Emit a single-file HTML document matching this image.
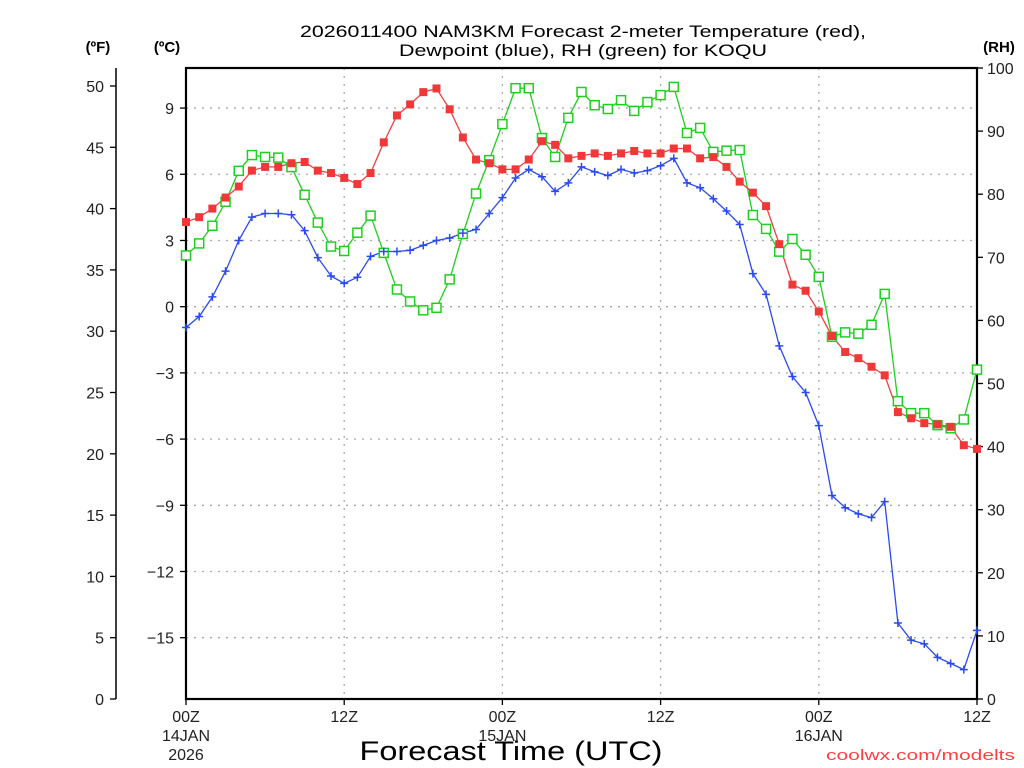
<!DOCTYPE html>
<html><head><meta charset="utf-8"><style>
html,body{margin:0;padding:0;background:#fff;}
svg{display:block;font-family:"Liberation Sans",sans-serif;}
</style></head><body>
<svg id="chart" width="1024" height="768" viewBox="0 0 1024 768" xmlns="http://www.w3.org/2000/svg">
<g id="grid"></g>
<g id="axes"></g>
<g id="series"></g>
<text x="583" y="37" font-size="17" text-anchor="middle" fill="#000" textLength="566" lengthAdjust="spacingAndGlyphs">2026011400 NAM3KM Forecast 2-meter Temperature (red),</text>
<text x="583" y="56" font-size="17" text-anchor="middle" fill="#000" textLength="368" lengthAdjust="spacingAndGlyphs">Dewpoint (blue), RH (green) for KOQU</text>
<text x="98" y="52" font-size="15" font-weight="bold" text-anchor="middle">(ºF)</text>
<text x="167" y="52" font-size="15" font-weight="bold" text-anchor="middle">(ºC)</text>
<text x="999" y="52" font-size="15" font-weight="bold" text-anchor="middle">(RH)</text>
<text x="511" y="760" font-size="27" text-anchor="middle" textLength="303" lengthAdjust="spacingAndGlyphs">Forecast Time (UTC)</text>
<text x="1015" y="760" font-size="15" fill="#ff4040" text-anchor="end" textLength="189" lengthAdjust="spacingAndGlyphs">coolwx.com/modelts</text>
</svg>
<script>
const tempF=[38.9,39.3,40.0,40.9,41.8,43.1,43.4,43.4,43.7,43.8,43.1,42.9,42.5,42.0,42.9,45.4,47.6,48.5,49.5,49.8,48.1,45.8,44.0,43.7,43.2,43.2,44.0,45.5,45.2,44.1,44.3,44.5,44.3,44.5,44.7,44.5,44.5,44.9,44.9,44.1,44.2,43.4,42.2,41.3,40.2,37.1,33.8,33.3,31.6,29.6,28.3,27.8,27.1,26.4,23.4,22.9,22.5,22.4,22.2,20.7,20.4];
const dewF=[30.3,31.2,32.8,34.9,37.4,39.3,39.6,39.6,39.5,38.2,36.0,34.5,33.9,34.4,36.1,36.5,36.5,36.6,37.0,37.4,37.6,38.0,38.3,39.6,40.9,42.5,43.2,42.6,41.4,42.1,43.4,43.0,42.7,43.2,42.9,43.1,43.5,44.1,42.1,41.7,40.8,39.8,38.7,34.7,33.0,28.8,26.3,25.0,22.3,16.6,15.6,15.1,14.8,16.1,6.2,4.8,4.5,3.4,2.9,2.4,5.6];
const rh=[70.3,72.2,75.0,78.8,83.7,86.2,85.9,85.8,84.3,79.9,75.5,71.7,71.0,73.9,76.6,70.7,64.9,63.0,61.6,62.0,66.5,73.7,80.1,85.4,91.1,96.8,96.8,88.9,85.9,92.1,96.2,94.1,93.5,94.9,93.2,94.6,95.7,97.0,89.7,90.5,86.7,86.9,87.0,76.7,74.5,70.9,72.9,70.4,66.9,57.4,58.1,57.9,59.3,64.2,47.2,45.3,45.3,43.4,42.9,44.3,52.2];
const fTicks=[0,5,10,15,20,25,30,35,40,45,50];
const cTicks=[-15,-12,-9,-6,-3,0,3,6,9];
const rhTicks=[0,10,20,30,40,50,60,70,80,90,100];
const xTickHours=[0,12,24,36,48,60];
const xTickLabels=["00Z","12Z","00Z","12Z","00Z","12Z"];
const xDateLabels=[["14JAN","2026"],null,["15JAN"],null,["16JAN"],null];

const X0=186,X1=977,Y0=699,Y1=68,NH=60;
const xs=h=>X0+(X1-X0)*h/NH;
const yF=f=>Y0-f*(Y0-86)/50;
const yC=c=>yF(c*1.8+32);
const yRH=r=>Y0-r*(Y0-Y1)/100;
const NS="http://www.w3.org/2000/svg";
function mk(tag,parent,attrs){const e=document.createElementNS(NS,tag);for(const k in attrs)e.setAttribute(k,attrs[k]);parent.appendChild(e);return e;}
const grid=document.getElementById('grid'),axes=document.getElementById('axes'),series=document.getElementById('series');

cTicks.forEach(c=>{const y=yC(c);
 const g=mk('line',grid,{x1:X0,x2:X1,y1:y,y2:y,stroke:'#aaa','stroke-width':1.3,'stroke-dasharray':'2 6'});
 
 
 const t=mk('line',axes,{x1:X0-6,x2:X0,y1:y,y2:y,stroke:'#000','stroke-width':1.3});
 
 
 const l=mk('text',axes,{x:X0-12,y:y+6,'font-size':16,'text-anchor':'end',fill:'#222'});
 l.textContent=c<0?'\u2212'+Math.abs(c):String(c);
 
 
});
xTickHours.forEach((h,i)=>{const x=xs(h);
 if(h>0&&h<NH){const g=mk('line',grid,{x1:x,x2:x,y1:Y1,y2:Y0,stroke:'#aaa','stroke-width':1.3,'stroke-dasharray':'2 6'});
  
  }
 const t=mk('line',axes,{x1:x,x2:x,y1:Y0,y2:Y0+6,stroke:'#000','stroke-width':1.3});
 
 
 const l=mk('text',axes,{x:x,y:Y0+23,'font-size':16,'text-anchor':'middle',fill:'#222'});
 l.textContent=xTickLabels[i];
 
 
 if(xDateLabels[i]){xDateLabels[i].forEach((s,j)=>{const d=mk('text',axes,{x:x,y:Y0+42+j*19,'font-size':16,'text-anchor':'middle',fill:'#222'});
  d.textContent=s;
  
  });}
});
// F axis
const fa=mk('line',axes,{x1:116,x2:116,y1:Y1,y2:Y0,stroke:'#000','stroke-width':1.5});


fTicks.forEach(f=>{const y=yF(f);
 const t=mk('line',axes,{x1:110,x2:116,y1:y,y2:y,stroke:'#000','stroke-width':1.3});
 
 
 const l=mk('text',axes,{x:104,y:y+6,'font-size':16,'text-anchor':'end',fill:'#222'});
 l.textContent=String(f);
 
 
});
rhTicks.forEach(r=>{const y=yRH(r);
 const t=mk('line',axes,{x1:X1,x2:X1+6,y1:y,y2:y,stroke:'#000','stroke-width':1.3});
 
 
 const l=mk('text',axes,{x:X1+10,y:y+6,'font-size':16,'text-anchor':'start',fill:'#222'});
 l.textContent=String(r);
 
 
});
const frame=mk('rect',axes,{x:X0,y:Y1,width:X1-X0,height:Y0-Y1,fill:'none',stroke:'#000','stroke-width':2.2});



function line(vals,yfn,color,name){
 const pts=vals.map((v,h)=>xs(h).toFixed(1)+','+yfn(v).toFixed(1)).join(' ');
 const p=mk('polyline',series,{points:pts,fill:'none',stroke:color,'stroke-width':1.3});
 
 
}
line(rh,yRH,'#1ed01e','rh');
line(dewF,yF,'#2a4af0','dewpoint');
line(tempF,yF,'#f04040','temperature');
rh.forEach((v,h)=>{const m=mk('rect',series,{x:xs(h)-4.5,y:yRH(v)-4.5,width:9,height:9,fill:'#fff',stroke:'#1ed01e','stroke-width':1.5});
 
 });
dewF.forEach((v,h)=>{const x=xs(h),y=yF(v);
 const m=mk('path',series,{d:`M${x-4} ${y}H${x+4}M${x} ${y-4}V${y+4}`,stroke:'#2a4af0','stroke-width':1.5});
 
 });
tempF.forEach((v,h)=>{const m=mk('rect',series,{x:xs(h)-4,y:yF(v)-4,width:8,height:8,fill:'#f03838'});
 
 });
</script>
</body></html>
